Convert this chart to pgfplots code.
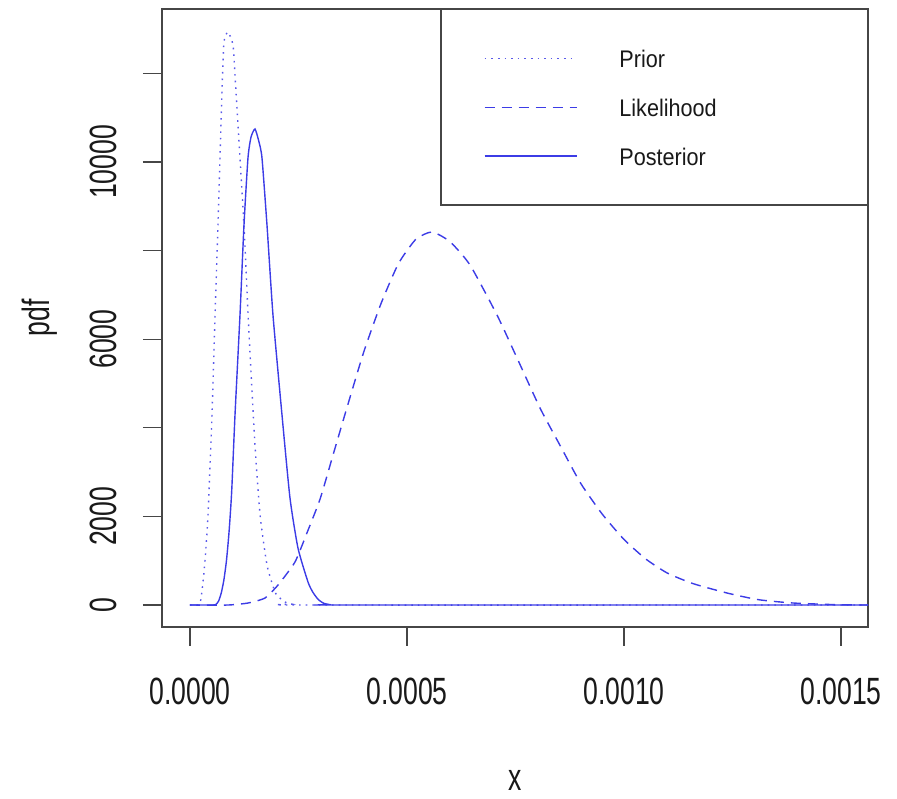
\documentclass[border=0pt]{standalone}
\usepackage{fontspec}
\setmainfont{Liberation Sans}
\newfontfamily\axisfont[FakeStretch=0.7]{Liberation Sans}
\newfontfamily\legfont[FakeStretch=0.9]{Liberation Sans}
\usepackage{pgfplots}
\pgfplotsset{compat=1.18}
\definecolor{rblue}{RGB}{60,60,230}
\definecolor{rframe}{RGB}{70,70,70}

\begin{document}
\begin{tikzpicture}
\path[use as bounding box] (0pt,0pt) rectangle (897pt,799pt);
\begin{axis}[
  at={(162pt,172pt)}, anchor=south west,
  width=706pt, height=618pt, scale only axis,
  xmin=-0.0000645, xmax=0.0015622,
  ymin=-496, ymax=13452,
  axis line style={rframe, line width=1.2pt},
  tick style={rframe, line width=1.2pt},
  tick align=outside,
  major tick length=19pt,
  xtick pos=bottom, ytick pos=left,
  xtick={0,0.0005,0.001,0.0015},
  xticklabels={0.0000,0.0005,0.0010,0.0015},
  ytick={0,2000,4000,6000,8000,10000,12000},
  yticklabels={0,2000,,6000,,10000,},
  scaled x ticks=false, scaled y ticks=false,
  ticklabel style={font=\axisfont\fontsize{38}{44}\selectfont, text=black!90},
  xticklabel style={anchor=center, yshift=-45pt},
  yticklabel style={xshift=-40pt, rotate=90, anchor=center},
  xlabel={x}, ylabel={pdf},
  label style={font=\axisfont\fontsize{38}{44}\selectfont, text=black!90},
  xlabel style={at={(axis description cs:0.5,-0.2476)}, anchor=center},
  ylabel style={at={(axis description cs:-0.1728,0.5)}, anchor=center},
  legend style={at={(rel axis cs:1,1)}, anchor=north east, draw=rframe,
    line width=1.2pt, fill=white, inner xsep=43pt, inner ysep=36pt, row sep=23pt,
    font=\legfont\fontsize{24}{29}\selectfont, text=black!90},
  legend cell align=left,
  legend image code/.code={\draw[#1] (0pt,0pt) -- (92pt,0pt);},
  every axis plot/.append style={no marks, smooth, tension=0.35},
]
% prior (dotted)
\addplot[rblue!85, line width=1.4pt, dash pattern=on 1.6pt off 5pt] table {
x y
0 0
0.0000150 0
0.0000200 0
0.0000250 120
0.0000300 519
0.0000350 1050
0.0000415 2031
0.0000507 4288
0.0000576 6500
0.0000645 8577
0.0000691 10089
0.0000737 11578
0.0000783 12707
0.0000876 12933
0.0000991 12639
0.0001037 11962
0.0001106 10834
0.0001152 10089
0.0001221 8960
0.0001267 8100
0.0001336 6600
0.0001382 5700
0.0001498 3600
0.0001613 2050
0.0001774 903
0.0001959 293
0.0002080 150
0.0002189 68
0.0002350 20
0.0002650 0
0.0016 0
};
\addlegendentry{\makebox[243pt][l]{\hspace{40pt}Prior\strut}}
% likelihood (dashed)
\addplot[rblue, line width=1.4pt, dash pattern=on 10pt off 7pt] table {
x y
0 0
0.0000876 0
0.0001336 45
0.0001728 158
0.0002028 451
0.0002419 971
0.0002700 1640
0.0003000 2400
0.0003300 3400
0.0003600 4400
0.0004000 5700
0.0004400 6800
0.0004800 7700
0.0005200 8250
0.0005576 8419
0.0005991 8200
0.0006452 7674
0.0007074 6545
0.0007535 5575
0.0008065 4446
0.0008500 3650
0.0009000 2750
0.0009500 2050
0.0010000 1480
0.0010500 1040
0.0011000 720
0.0011600 480
0.0012400 265
0.0013100 120
0.0013900 45
0.0015000 5
0.0016000 0
};
\addlegendentry{\makebox[243pt][l]{\hspace{40pt}Likelihood\strut}}
% posterior (solid)
\addplot[rblue, line width=1.4pt, solid] table {
x y
0 0
0.0000530 0
0.0000600 15
0.0000660 90
0.0000720 270
0.0000780 560
0.0000840 1000
0.0000900 1650
0.0000960 2550
0.0001037 4288
0.0001152 6545
0.0001244 8577
0.0001336 10089
0.0001406 10560
0.0001498 10743
0.0001590 10450
0.0001659 10089
0.0001774 8577
0.0001912 6545
0.0002120 4288
0.0002304 2415
0.0002488 1286
0.0002719 519
0.0002830 290
0.0002950 130
0.0003080 40
0.0003250 5
0.0003450 0
0.0016 0
};
\addlegendentry{\makebox[243pt][l]{\hspace{40pt}Posterior\strut}}
\end{axis}
\end{tikzpicture}
\end{document}
